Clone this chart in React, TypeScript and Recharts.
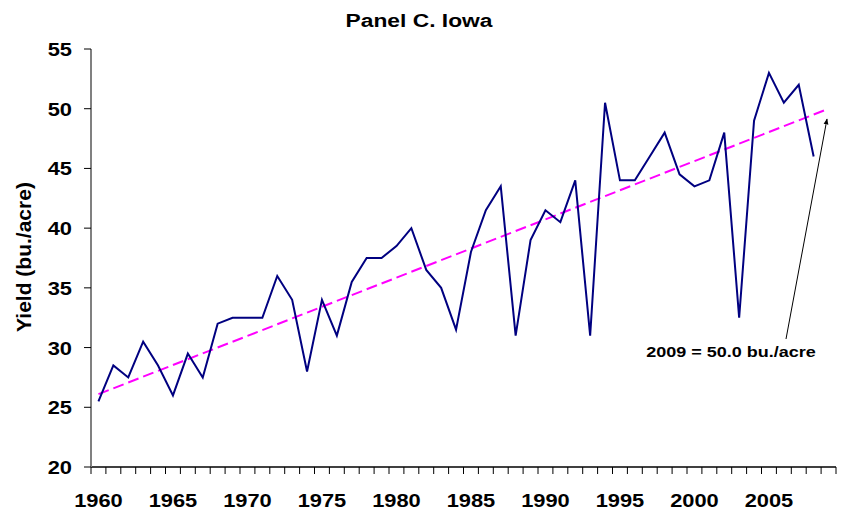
import React from 'react';
import { Line, LineChart, XAxis, YAxis } from 'recharts';

// Iowa yield by year (bu./acre)
const years = Array.from({ length: 50 }, (_, i) => 1960 + i);
const yields = [
  25.5, 28.5, 27.5, 30.5, 28.5, 26, 29.5, 27.5, 32, 32.5,
  32.5, 32.5, 36, 34, 28, 34, 31, 35.5, 37.5, 37.5,
  38.5, 40, 36.5, 35, 31.5, 38, 41.5, 43.5, 31, 39,
  41.5, 40.5, 44, 31, 50.5, 44, 44, 46, 48, 44.5,
  43.5, 44, 48, 32.5, 49, 53, 50.5, 52, 46, null,
];
// linear trend end points
const trendYears = [1960, 2009];
const trendValues = [26.1, 50.0];

const yearLabels = [1960, 1965, 1970, 1975, 1980, 1985, 1990, 1995, 2000, 2005];
const yTicks = [20, 25, 30, 35, 40, 45, 50, 55];
const boundaries = years.map(y => y - 0.5).concat(years[years.length - 1] + 0.5);

const data = years.map((year, i) => {
  const t = trendYears.indexOf(year);
  return { year, yield: yields[i], trend: t >= 0 ? trendValues[t] : null };
});

const FONT = '"Liberation Sans", Arial, sans-serif';

const XTick = (props: any) => {
  const { x, y, payload } = props;
  const v = payload.value as number;
  if (!Number.isInteger(v)) {
    return <line x1={x} y1={y} x2={x} y2={y + 7} stroke="#000" strokeWidth={1} />;
  }
  return (
    <text
      transform={`translate(${x},${y + 33}) scale(1.15,1)`}
      textAnchor="middle"
      dominantBaseline="central"
      fontSize={19}
      fontWeight="bold"
      fontFamily={FONT}
      fill="#000"
    >
      {v}
    </text>
  );
};

const YTick = (props: any) => {
  const { x, y, payload } = props;
  return (
    <text
      transform={`translate(${x},${y}) scale(1.15,1)`}
      textAnchor="end"
      dominantBaseline="central"
      fontSize={19}
      fontWeight="bold"
      fontFamily={FONT}
      fill="#000"
    >
      {payload.value}
    </text>
  );
};

export default function App() {
  return (
    <div style={{ position: 'absolute', left: 0, top: 0, width: 844, height: 516, background: '#fff', fontFamily: FONT }}>
      <LineChart width={844} height={516} data={data} margin={{ top: 49, right: 8, bottom: 4, left: 11 }}>
        <XAxis
          dataKey="year"
          type="number"
          domain={[1959.5, 2009.5]}
          ticks={[...boundaries, ...yearLabels]}
          interval={0}
          tick={<XTick />}
          tickLine={false}
          tickSize={0}
          tickMargin={0}
          height={45}
          axisLine={{ stroke: '#000', strokeWidth: 1.5 }}
        />
        <YAxis
          domain={[20, 55]}
          ticks={yTicks}
          interval={0}
          width={80}
          tickSize={7}
          tickMargin={12}
          tick={<YTick />}
          tickLine={{ stroke: '#000' }}
          axisLine={{ stroke: '#808080', strokeWidth: 2 }}
        />
        <Line
          dataKey="trend"
          stroke="#ff00ff"
          strokeWidth={2}
          strokeDasharray="11 5"
          dot={false}
          connectNulls
          isAnimationActive={false}
        />
        <Line
          dataKey="yield"
          stroke="#000080"
          strokeWidth={2}
          dot={false}
          isAnimationActive={false}
        />
      </LineChart>
      <svg width={844} height={516} style={{ position: 'absolute', left: 0, top: 0, pointerEvents: 'none' }}>
        <defs>
          <marker id="head" viewBox="0 0 10 10" refX="9" refY="5" markerWidth="6" markerHeight="6" orient="auto">
            <path d="M0,1 L10,5 L0,9 z" fill="#000" />
          </marker>
        </defs>
        <text
          transform="translate(419,20) scale(1.2,1)"
          textAnchor="middle"
          dominantBaseline="central"
          fontSize={19}
          fontWeight="bold"
          fontFamily={FONT}
        >
          Panel C. Iowa
        </text>
        <text
          transform="translate(23,257) rotate(-90)"
          textAnchor="middle"
          dominantBaseline="central"
          fontSize={21}
          fontWeight="bold"
          fontFamily={FONT}
        >
          Yield (bu./acre)
        </text>
        <line x1={786} y1={339} x2={827} y2={119} stroke="#000" strokeWidth={1} markerEnd="url(#head)" />
        <text
          transform="translate(731,352) scale(1.2,1)"
          textAnchor="middle"
          dominantBaseline="central"
          fontSize={15}
          fontWeight="bold"
          fontFamily={FONT}
        >
          2009 = 50.0 bu./acre
        </text>
      </svg>
    </div>
  );
}
